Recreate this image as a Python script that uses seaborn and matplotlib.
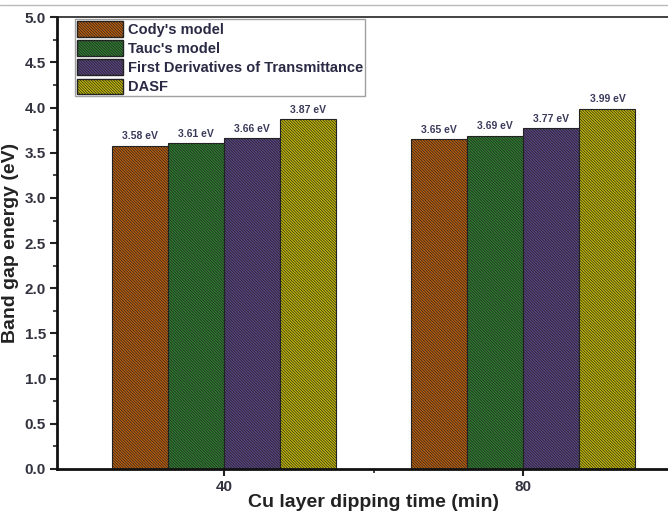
import numpy as np
import pandas as pd
import matplotlib
matplotlib.use("Agg")
import matplotlib.pyplot as plt
import seaborn as sns
from matplotlib.patches import Patch
from matplotlib.ticker import MultipleLocator, FormatStrFormatter

times = ["40", "80"]
models = ["Cody's model", "Tauc's model", "First Derivatives of Transmittance", "DASF"]
cody = [3.58, 3.65]
tauc = [3.61, 3.69]
first_deriv = [3.66, 3.77]
dasf = [3.87, 3.99]

model_colors = ["#c0600c", "#2f8030", "#5a4585", "#c8be06"]
HATCH = "\\" * 12

rows = []
for model, vals in zip(models, [cody, tauc, first_deriv, dasf]):
    for t, v in zip(times, vals):
        rows.append({"time": t, "model": model, "gap": v})
df = pd.DataFrame(rows)

sns.set_theme(style="white")
plt.rcParams["font.family"] = ["Liberation Sans", "DejaVu Sans"]
plt.rcParams["hatch.linewidth"] = 0.5
plt.rcParams["hatch.color"] = "#1a1a1a"

fig = plt.figure(figsize=(6.68, 5.18), dpi=100)
ax = fig.add_axes([0.0853, 0.0946, 0.948, 0.872])

sns.barplot(data=df, x="time", y="gap", hue="model", hue_order=models,
            palette=model_colors, width=0.75, ax=ax, legend=False,
            edgecolor="#222222", linewidth=0.8, saturation=1)

for cont in ax.containers:
    for bar in cont:
        bar.set_hatch(HATCH)
    ax.bar_label(cont, fmt="%.2f eV", padding=3, fontsize=7.5, fontweight="bold",
                 color="#3a3a5a")

ax.set_ylim(0, 5.0)
ax.set_xlim(-0.558, 1.558)
ax.yaxis.set_major_locator(MultipleLocator(0.5))
ax.yaxis.set_minor_locator(MultipleLocator(0.25))
ax.set_xticks([0, 1])
ax.set_xticks([0.5], minor=True)
ax.yaxis.set_major_formatter(FormatStrFormatter("%.1f"))
ax.tick_params(axis="both", which="major", direction="out", length=5, width=1.5,
               labelsize=11, colors="#222222", left=True, bottom=True, pad=3)
ax.tick_params(axis="both", which="minor", direction="out", length=3, width=1.2,
               left=True, bottom=True)
for lab in ax.get_xticklabels() + ax.get_yticklabels():
    lab.set_fontweight("bold")
    lab.set_color("#333340")

for side in ["left", "bottom"]:
    ax.spines[side].set_linewidth(2)
    ax.spines[side].set_color("#111111")
ax.spines["top"].set_linewidth(1.2)
ax.spines["top"].set_color("#222222")

ax.set_xlabel("Cu layer dipping time (min)", fontsize=14, fontweight="bold",
              color="#222222", labelpad=0)
ax.set_ylabel("Band gap energy (eV)", fontsize=14, fontweight="bold",
              color="#222222", labelpad=4)

handles = [Patch(facecolor=c, edgecolor="#222222", hatch=HATCH, label=m)
           for m, c in zip(models, model_colors)]
leg = ax.legend(handles=handles, loc="upper left", bbox_to_anchor=(0.025, 1.0),
                frameon=True, fancybox=False, edgecolor="#888888",
                prop={"weight": "bold", "size": 10.5}, handlelength=3.2,
                handleheight=1.3, handletextpad=0.3, labelspacing=0.22,
                borderpad=0.12, borderaxespad=0.15)
leg.get_frame().set_linewidth(1.0)
for t in leg.get_texts():
    t.set_color("#2a2a45")

fig.add_artist(plt.Line2D([0, 1], [1 - 5 / 518, 1 - 5 / 518], color="#bbbbbb", lw=1))

fig.savefig("out.png", dpi=100)
